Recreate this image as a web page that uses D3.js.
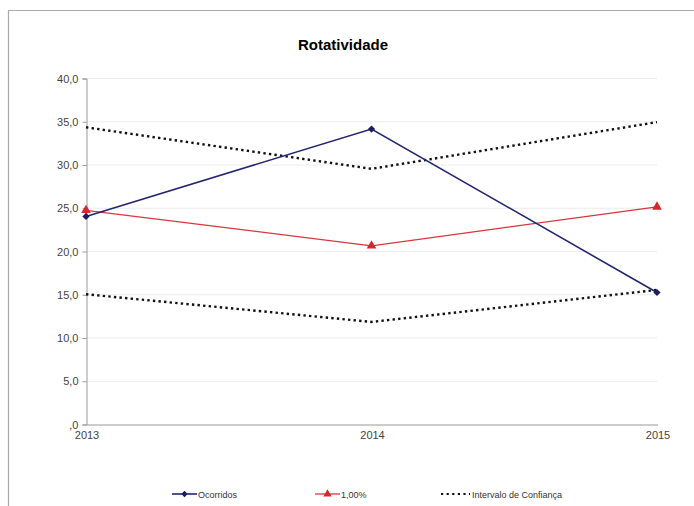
<!DOCTYPE html>
<html>
<head>
<meta charset="utf-8">
<script src="https://cdn.jsdelivr.net/npm/d3@7"></script>
<style>
body { margin: 0; background: #fff; }
svg { font-family: Arial, "Liberation Sans", sans-serif; }
</style>
</head>
<body>
<script>
(function(){

//data
var years = ["2013", "2014", "2015"];
var ocorridos = [24.0, 34.1, 15.2];
var meta = [24.7, 20.6, 25.1];
var icUpper = [34.3, 29.5, 34.9];
var icLower = [15.0, 11.8, 15.5];
var yTicks = [0, 5, 10, 15, 20, 25, 30, 35, 40];

window.onload = drawChart();

function drawChart(){
    var width = 694,
        height = 506;

    var svg = d3.select("body")
        .append("svg")
        .attr("width", width)
        .attr("height", height);

    //outer frame
    svg.append("path")
        .attr("d", "M8.5," + height + "V10.5H" + width)
        .attr("fill", "none")
        .attr("stroke", "#aaa")
        .attr("stroke-width", 1.2);

    var x = d3.scalePoint()
        .domain(years)
        .range([86, 657]);

    var y = d3.scaleLinear()
        .domain([0, 40])
        .range([424, 78]);

    //title
    svg.append("text")
        .attr("x", 343)
        .attr("y", 50)
        .attr("text-anchor", "middle")
        .style("font-size", "15px")
        .style("font-weight", "bold")
        .text("Rotatividade");

    //gridlines
    svg.selectAll(".grid")
        .data(yTicks.slice(1))
        .enter()
        .append("line")
        .attr("class", "grid")
        .attr("x1", 86)
        .attr("x2", 657)
        .attr("y1", function(d){ return y(d) + 0.5; })
        .attr("y2", function(d){ return y(d) + 0.5; })
        .attr("stroke", "#ececec");

    //y axis
    var yAxis = svg.append("g")
        .attr("transform", "translate(86.5,0.5)")
        .call(d3.axisLeft(y)
            .tickValues(yTicks)
            .tickSize(4)
            .tickFormat(function(d){
                return d === 0 ? ",0" : d3.format(".1f")(d).replace(".", ",");
            }));
    yAxis.select(".domain").attr("stroke", "#999");
    yAxis.selectAll(".tick line").attr("stroke", "#999");
    yAxis.selectAll(".tick text")
        .attr("fill", "#444")
        .style("font-size", "11px")
        .attr("x", -8);

    //x axis
    var xAxis = svg.append("g")
        .attr("transform", "translate(0.5," + (y(0) + 0.5) + ")")
        .call(d3.axisBottom(x).tickSize(0).tickPadding(7));
    xAxis.select(".domain").attr("stroke", "#999");
    xAxis.selectAll(".tick text")
        .attr("fill", "#444")
        .style("font-size", "11px");

    var line = d3.line()
        .x(function(d, i){ return x(years[i]); })
        .y(function(d){ return y(d); });

    //square rotated 45deg = the Excel style diamond
    var diamond = d3.symbol().type(d3.symbolSquare).size(26);

    //confidence interval
    [icUpper, icLower].forEach(function(s){
        svg.append("path")
            .datum(s)
            .attr("d", line)
            .attr("fill", "none")
            .attr("stroke", "#111")
            .attr("stroke-width", 2.4)
            .attr("stroke-dasharray", "2.4,3.2");
    });

    //1,00%
    svg.append("path")
        .datum(meta)
        .attr("d", line)
        .attr("fill", "none")
        .attr("stroke", "#d8363c")
        .attr("stroke-width", 1.3);
    svg.selectAll(".tri")
        .data(meta)
        .enter()
        .append("path")
        .attr("class", "tri")
        .attr("d", d3.symbol().type(d3.symbolTriangle).size(40))
        .attr("transform", function(d, i){ return "translate(" + x(years[i]) + "," + y(d) + ")"; })
        .attr("fill", "#d8262c");

    //ocorridos
    svg.append("path")
        .datum(ocorridos)
        .attr("d", line)
        .attr("fill", "none")
        .attr("stroke", "#25256f")
        .attr("stroke-width", 1.6);
    svg.selectAll(".dia")
        .data(ocorridos)
        .enter()
        .append("path")
        .attr("class", "dia")
        .attr("d", diamond)
        .attr("transform", function(d, i){ return "translate(" + x(years[i]) + "," + y(d) + ") rotate(45)"; })
        .attr("fill", "#1c1c5e");

    //legend
    var ly = 494;
    var leg = svg.append("g").style("font-size", "9px").attr("fill", "#333");

    leg.append("line").attr("x1", 172).attr("x2", 197).attr("y1", ly).attr("y2", ly)
        .attr("stroke", "#25256f").attr("stroke-width", 1.6);
    leg.append("path").attr("d", d3.symbol().type(d3.symbolSquare).size(20))
        .attr("transform", "translate(184.5," + ly + ") rotate(45)").attr("fill", "#1c1c5e");
    leg.append("text").attr("x", 198).attr("y", ly + 3.5).text("Ocorridos");

    leg.append("line").attr("x1", 315).attr("x2", 340).attr("y1", ly).attr("y2", ly)
        .attr("stroke", "#d8363c").attr("stroke-width", 1.3);
    leg.append("path").attr("d", d3.symbol().type(d3.symbolTriangle).size(30))
        .attr("transform", "translate(327.5," + ly + ")").attr("fill", "#d8262c");
    leg.append("text").attr("x", 341).attr("y", ly + 3.5).text("1,00%");

    leg.append("line").attr("x1", 441).attr("x2", 470).attr("y1", ly).attr("y2", ly)
        .attr("stroke", "#111").attr("stroke-width", 2.2).attr("stroke-dasharray", "2.2,3.4");
    leg.append("text").attr("x", 472).attr("y", ly + 3.5).text("Intervalo de Confiança");
};

})();
</script>
</body>
</html>
